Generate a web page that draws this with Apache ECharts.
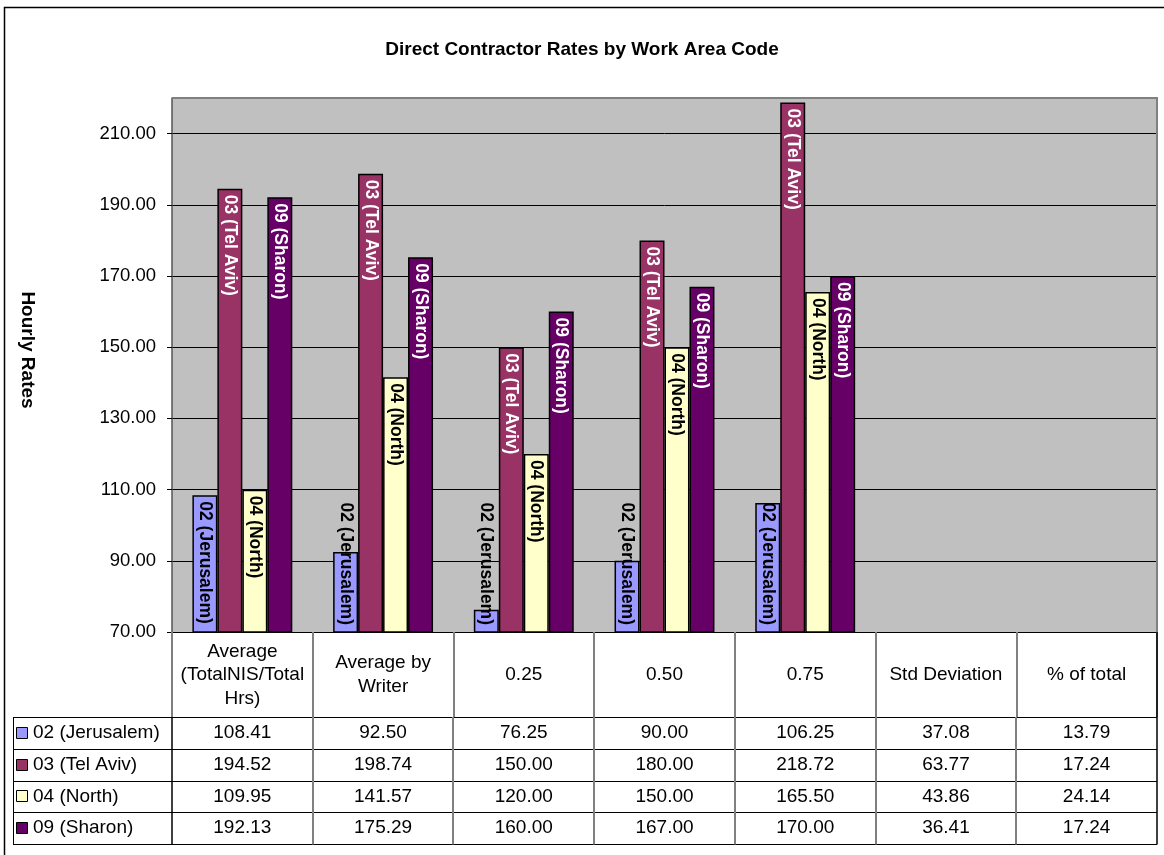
<!DOCTYPE html>
<html><head><meta charset="utf-8">
<script src="https://cdn.jsdelivr.net/npm/echarts@6/dist/echarts.min.js"></script>
<style>html,body{margin:0;padding:0;background:#fff}#c{width:1164px;height:855px}</style>
</head><body><div id="c"></div>
<script>
// ---- data ----
const chartTitle = 'Direct Contractor Rates by Work Area Code';
const yAxisTitle = 'Hourly Rates';
const categories = ['Average\n(TotalNIS/Total\nHrs)', 'Average by\nWriter', '0.25', '0.50', '0.75', 'Std Deviation', '% of total'];
const seriesNames = ['02 (Jerusalem)', '03 (Tel Aviv)', '04 (North)', '09 (Sharon)'];
const jerusalem = [108.41, 92.50, 76.25, 90.00, 106.25, 37.08, 13.79];
const telAviv   = [194.52, 198.74, 150.00, 180.00, 218.72, 63.77, 17.24];
const north     = [109.95, 141.57, 120.00, 150.00, 165.50, 43.86, 24.14];
const sharon    = [192.13, 175.29, 160.00, 167.00, 170.00, 36.41, 17.24];
const yMin = 70, yMax = 220, yStep = 20;

// ---- styles ----
const FONT = '"Liberation Sans", Arial, Helvetica, sans-serif';
const colors = ['#9999FF', '#993366', '#FFFFCC', '#660066'];
const labelColors = ['#000000', '#FFFFFF', '#000000', '#FFFFFF'];
const GRID = {left: 172, right: 7, top: 98, bottom: 223};
const seriesData = [jerusalem, telAviv, north, sharon];

const chart = echarts.init(document.getElementById('c'), null, {renderer: 'canvas'});

function fitLabel(p) {
  const gb = chart.getHeight() - GRID.bottom;
  const len = p.labelRect.height;
  const top = Math.max(p.rect.y, GRID.top);
  if (top + 6 + len + 7 > gb) return {y: gb - 7 - len};
  return {};
}

const option = {
  animation: false,
  backgroundColor: '#FFFFFF',
  textStyle: {fontFamily: FONT},
  title: {
    text: chartTitle, left: 'center', top: 35,
    textStyle: {fontFamily: FONT, fontSize: 19, fontWeight: 'bold', color: '#000'}
  },
  grid: {left: GRID.left, right: GRID.right, top: GRID.top, bottom: GRID.bottom,
         show: true, backgroundColor: '#C0C0C0', borderWidth: 0},
  xAxis: {
    type: 'category', data: categories,
    axisLine: {show: true, lineStyle: {color: '#000', width: 1}},
    axisTick: {show: true, length: 85, lineStyle: {color: '#808080', width: 2}},
    axisLabel: {interval: 0, margin: 43, verticalAlign: 'middle', lineHeight: 23.5,
                fontFamily: FONT, fontSize: 19, color: '#000'}
  },
  yAxis: {
    type: 'value', min: yMin, max: yMax, interval: yStep,
    name: yAxisTitle, nameLocation: 'middle', nameGap: 135, nameRotate: -90,
    nameTextStyle: {fontFamily: FONT, fontSize: 19, fontWeight: 'bold', color: '#000', padding: [0, 30, 0, 0]},
    axisLine: {show: true, lineStyle: {color: '#555', width: 1.5}},
    axisTick: {show: true, length: 5, lineStyle: {color: '#000'}},
    axisLabel: {margin: 16, showMaxLabel: false, fontFamily: FONT, fontSize: 18.5, color: '#000',
                formatter: v => v.toFixed(2)},
    splitLine: {show: true, lineStyle: {color: '#000', width: 1}}
  },
  series: seriesNames.map((name, i) => ({
    type: 'bar', name: name, data: seriesData[i],
    barGap: '0%', barCategoryGap: '29%',
    itemStyle: {color: colors[i], borderColor: '#000', borderWidth: 1.5},
    label: {
      show: true, position: 'insideTop', rotate: -90, align: 'left', verticalAlign: 'middle',
      distance: 6, fontFamily: FONT, fontSize: 17.5, fontWeight: 'bold', color: labelColors[i],
      formatter: p => (p.value >= yMin ? p.seriesName : '')
    },
    labelLayout: fitLabel
  }))
};
chart.setOption(option);

// ---- data table under the plot ----
const centers = categories.map((c, i) => chart.convertToPixel({xAxisIndex: 0}, i));
const band = centers[1] - centers[0];
const plotL = GRID.left, plotR = chart.getWidth() - GRID.right;
const plotT = GRID.top, plotB = chart.getHeight() - GRID.bottom;
const tableL = 13, rowTop = 717, rowH = 31.75;
const g = [];
// outer frame
g.push({type: 'rect', z: 100, shape: {x: 4.5, y: 7.5, width: 1300, height: 1000},
        style: {fill: null, stroke: '#000', lineWidth: 1.5}});
// plot area border (top, right)
g.push({type: 'polyline', z: 100, shape: {points: [[plotL, plotT], [plotR, plotT], [plotR, plotB]]},
        style: {fill: null, stroke: '#808080', lineWidth: 2}});
// horizontal rules
for (let r = 0; r <= seriesNames.length; r++) {
  const y = Math.round(rowTop + r * rowH) + 0.5;
  g.push({type: 'line', z: 100, shape: {x1: tableL, y1: y, x2: plotR, y2: y}, style: {stroke: '#000', lineWidth: 1}});
}
const tableB = Math.round(rowTop + seriesNames.length * rowH) + 0.5;
// vertical rules
g.push({type: 'line', z: 100, shape: {x1: tableL + 0.5, y1: rowTop, x2: tableL + 0.5, y2: tableB}, style: {stroke: '#000', lineWidth: 1}});
g.push({type: 'line', z: 100, shape: {x1: plotL, y1: rowTop, x2: plotL, y2: tableB}, style: {stroke: '#000', lineWidth: 1.5}});
for (let i = 1; i < categories.length; i++) {
  const x = Math.round(centers[i] - band / 2);
  g.push({type: 'line', z: 100, shape: {x1: x, y1: rowTop, x2: x, y2: tableB}, style: {stroke: '#808080', lineWidth: 2}});
}
g.push({type: 'line', z: 100, shape: {x1: plotR, y1: plotB, x2: plotR, y2: tableB}, style: {stroke: '#000', lineWidth: 1.5}});
// rows
seriesNames.forEach((name, r) => {
  const cy = rowTop + r * rowH + rowH / 2;
  g.push({type: 'rect', z: 101, shape: {x: 16.5, y: Math.round(cy - 6) + 0.5, width: 11, height: 11},
          style: {fill: colors[r], stroke: '#000', lineWidth: 1}});
  g.push({type: 'text', z: 101, x: 33, y: cy,
          style: {text: name, fontFamily: FONT, fontSize: 19, fill: '#000', align: 'left', verticalAlign: 'middle'}});
  seriesData[r].forEach((v, i) => {
    g.push({type: 'text', z: 101, x: centers[i], y: cy,
            style: {text: v.toFixed(2), fontFamily: FONT, fontSize: 19, fill: '#000', align: 'center', verticalAlign: 'middle'}});
  });
});
chart.setOption({graphic: g});
</script>
</body></html>
